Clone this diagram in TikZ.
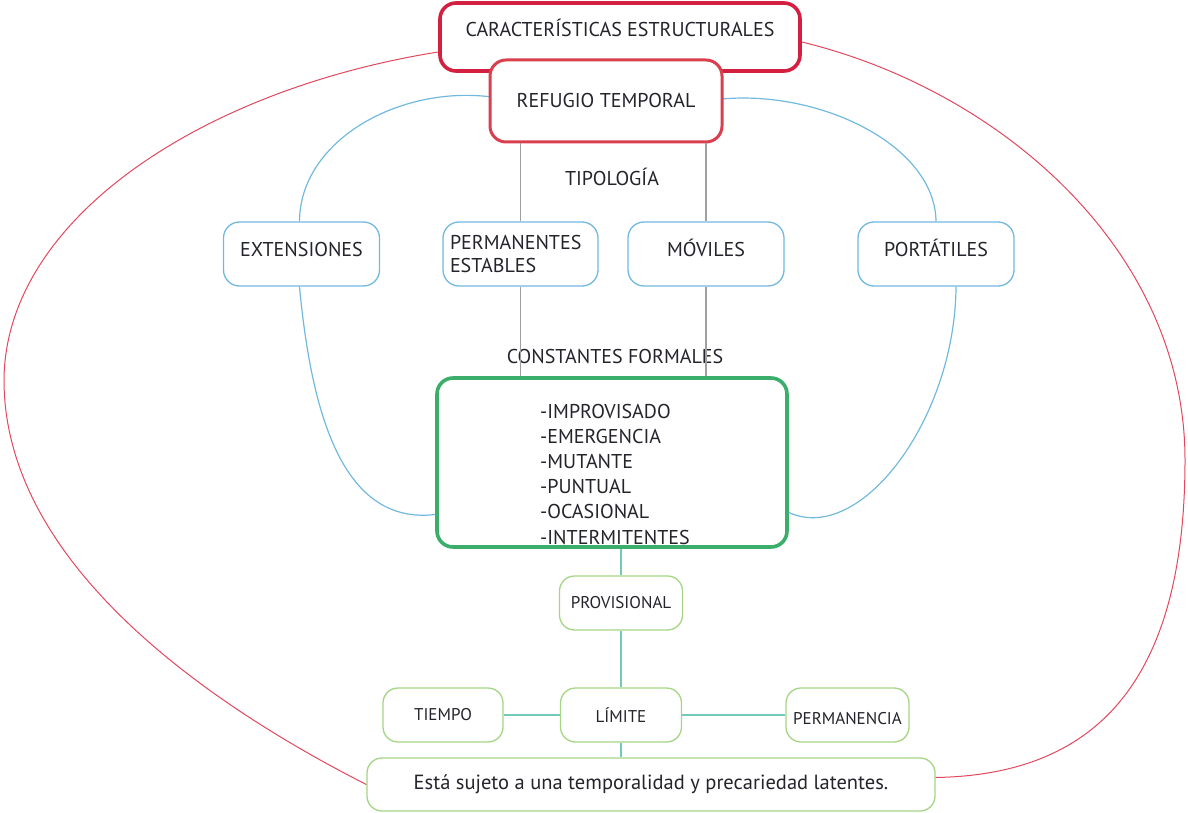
\documentclass[tikz,border=0pt]{standalone}
\usepackage{fontspec}
\setmainfont{PT Sans}
\definecolor{cred}{HTML}{D42040}
\definecolor{cred2}{HTML}{DA3F4E}
\definecolor{cthin}{HTML}{E2475E}
\definecolor{cblue}{HTML}{72B9DE}
\definecolor{cgreen}{HTML}{3AAE6A}
\definecolor{clgreen}{HTML}{A5D685}
\definecolor{cteal}{HTML}{72CBB8}
\definecolor{cgrey}{HTML}{A0A0A0}
\definecolor{ctext}{HTML}{24242C}
\begin{document}
\begin{tikzpicture}[x=1pt,y=-1pt,
  every node/.style={text=ctext,inner sep=0pt},
  bigfont/.style={font=\fontsize{20}{25}\selectfont},
  smallfont/.style={font=\fontsize{17}{20}\selectfont},
  raised/.style={text height=14pt,text depth=10pt},
  redbox/.style={draw=cred,line width=3.6pt,rounded corners=16pt,fill=white,bigfont},
  redbox2/.style={draw=cred2,line width=3pt,rounded corners=16pt,fill=white,bigfont},
  bluebox/.style={draw=cblue,line width=1.3pt,rounded corners=16pt,fill=white,bigfont,minimum width=156pt,minimum height=64pt},
  greenbox/.style={draw=cgreen,line width=3.6pt,rounded corners=16pt,fill=white},
  lgbox/.style={draw=clgreen,line width=1.3pt,rounded corners=15pt,fill=white,smallfont,minimum height=54pt},
  plain/.style={bigfont},
  redline/.style={draw=cthin,line width=1pt},
  blueline/.style={draw=cblue,line width=1.2pt},
  greyline/.style={draw=cgrey,line width=1.4pt},
  tealline/.style={draw=cteal,line width=2pt}
]
\useasboundingbox (0,0) rectangle (1188,813);

% red outer box
\node[redbox,minimum width=360pt,minimum height=68pt,text height=12pt,text depth=12pt] (car) at (620,37) {CARACTERÍSTICAS ESTRUCTURALES};

% lower level boxes
\node[bluebox,raised] (ext) at (301.5,254) {EXTENSIONES};
\node[bluebox,minimum width=155pt,align=left,text width=141pt] (perm) at (520.5,254) {PERMANENTES\\[-2pt]ESTABLES};
\node[bluebox,raised] (mov) at (706,254) {MÓVILES};
\node[bluebox,raised] (port) at (936,254) {PORTÁTILES};

\node[plain] (tipo) at (612,177) {TIPOLOGÍA};
\node[plain] (cform) at (615,356) {CONSTANTES FORMALES};

\node[greenbox,minimum width=350pt,minimum height=169pt] (const) at (612,462.5) {};

\node[lgbox,minimum width=123pt] (prov) at (621,603) {PROVISIONAL};
\node[lgbox,minimum width=121pt] (lim) at (621,715) {LÍMITE};
\node[lgbox,minimum width=120pt] (tiem) at (443,715) {TIEMPO};
\node[lgbox,minimum width=123pt,text height=20pt,text depth=2pt] (perma) at (847.5,715) {PERMANENCIA};
\node[lgbox,font=\fontsize{20.5}{25}\selectfont,minimum width=568pt,minimum height=53pt] (esta) at (651,784.5) {Está sujeto a una temporalidad y precariedad latentes.};

% red thin curves
\draw[redline] ([yshift=-15pt]car.west) .. controls (200,90) and (5,220) .. (4,380)
  .. controls (4,560) and (200,700) .. (esta.west);
\draw[redline] ([yshift=-5pt]car.east) .. controls (1000,90) and (1185,250) .. (1185,460)
  .. controls (1185,700) and (1080,775) .. ([yshift=7pt]esta.east);

% blue curves
\draw[blueline] (492,97) .. controls (400,85) and (300,140) .. ([xshift=-2pt]ext.north);
\draw[blueline] (722,99) .. controls (820,90) and (935,145) .. (port.north);
\draw[blueline] ([xshift=-2pt]ext.south) .. controls (312,420) and (345,525) .. ([yshift=-52pt]const.west);
\draw[blueline] ([xshift=20pt]port.south) .. controls (955,420) and (860,545) .. ([yshift=-50pt]const.east);

% refugio on top
\node[redbox2,minimum width=232pt,minimum height=82pt] (ref) at (606,101) {REFUGIO TEMPORAL};

% grey lines
\draw[greyline] (ref.south -| perm.north) -- (perm.north);
\draw[greyline] (ref.south -| mov.north) -- (mov.north);
\draw[greyline] (perm.south) -- (perm.south |- const.north);
\draw[greyline] (mov.south) -- (mov.south |- const.north);

% teal lines
\draw[tealline] (prov.north |- const.south) -- (prov.north);
\draw[tealline] (prov.south) -- (lim.north);
\draw[tealline] (tiem.east) -- (lim.west);
\draw[tealline] (lim.east) -- (perma.west);
\draw[tealline] (lim.south) -- (lim.south |- esta.north);

% list text
\node[align=left,anchor=west,font=\fontsize{20}{25.2}\selectfont] (clist) at (540,474) {-IMPROVISADO\\-EMERGENCIA\\-MUTANTE\\-PUNTUAL\\-OCASIONAL\\-INTERMITENTES};
\end{tikzpicture}
\end{document}
